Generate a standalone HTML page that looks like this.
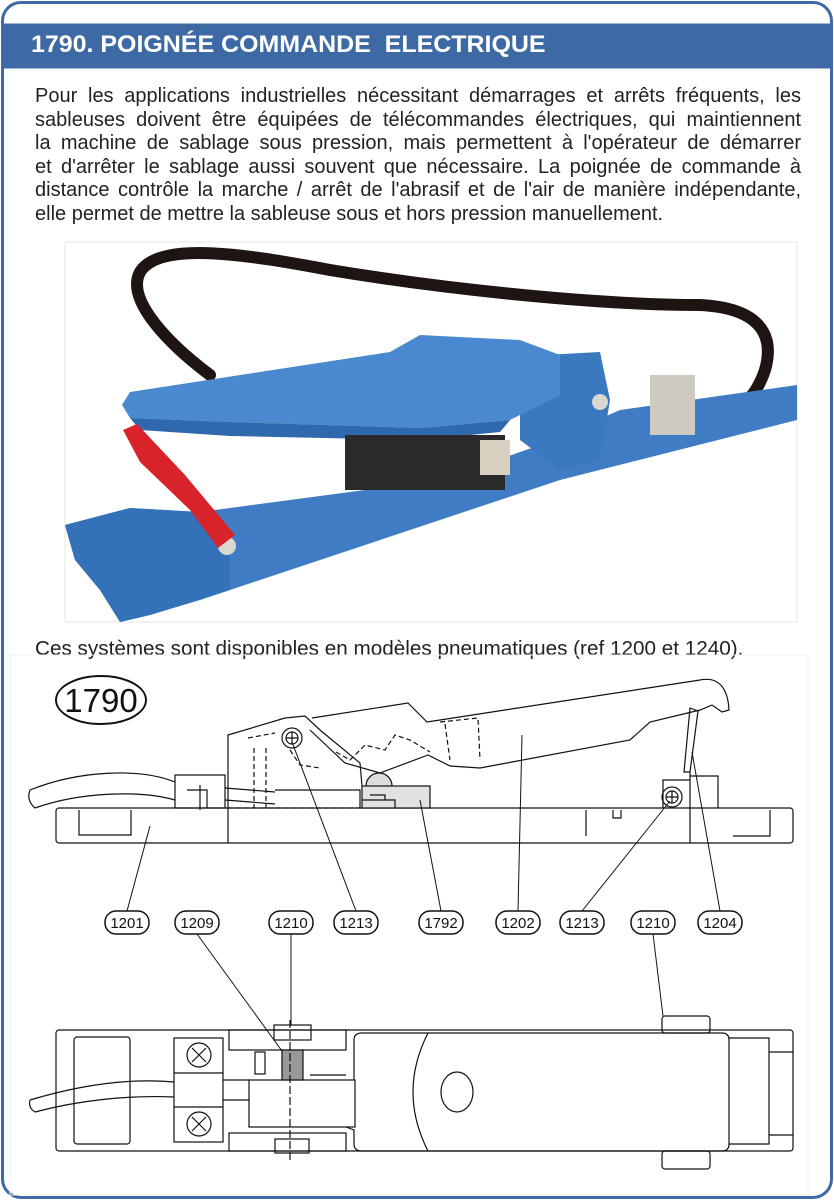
<!DOCTYPE html>
<html><head><meta charset="utf-8"><style>
html,body{margin:0;padding:0;background:#fff}
body{width:834px;height:1200px;position:relative;overflow:hidden;font-family:"Liberation Sans",Arial,sans-serif}
.frame{position:absolute;left:1px;top:1px;width:826px;height:1192px;border:3px solid #3d6aa5;border-radius:20px}
.hdr{position:absolute;left:4px;top:23px;width:826px;height:44px;background:#3d6aa5;border-top:1px solid #9fb6d6;border-bottom:1px solid #9fb6d6}
.hdr span{position:absolute;left:27px;top:7px;color:#fff;font-weight:bold;font-size:24px;white-space:pre;transform:scaleX(1.04);transform-origin:left}
.txt{position:absolute;left:35px;top:85px;width:766px;font-size:20px;line-height:23.5px;color:#222}
.l{text-align:justify;text-align-last:justify;white-space:nowrap}
.l.last{text-align-last:left}
.cap{position:absolute;left:35px;top:637px;font-size:20.7px;color:#222;white-space:nowrap}
svg{position:absolute;left:0;top:0}
</style></head><body>
<div class="frame"></div>
<div class="hdr"><span>1790. POIGNÉE COMMANDE  ELECTRIQUE</span></div>
<div class="txt">
<div class="l">Pour les applications industrielles nécessitant démarrages et arrêts fréquents, les</div>
<div class="l">sableuses doivent être équipées de télécommandes électriques, qui maintiennent</div>
<div class="l">la machine de sablage sous pression, mais permettent à l'opérateur de démarrer</div>
<div class="l">et d'arrêter le sablage aussi souvent que nécessaire. La poignée de commande à</div>
<div class="l">distance contrôle la marche / arrêt de l'abrasif et de l'air de manière indépendante,</div>
<div class="l last">elle permet de mettre la sableuse sous et hors pression manuellement.</div>
</div>
<div class="cap">Ces systèmes sont disponibles en modèles pneumatiques (ref 1200 et 1240).</div>

<svg width="834" height="1200" viewBox="0 0 834 1200">
<rect x="65" y="242" width="732" height="380" fill="#fff" stroke="#e4e4e4"/>
<path d="M210,375 C170,345 125,300 140,272 C160,240 250,255 330,270 C450,290 600,305 700,305 C760,308 775,335 765,370 C755,400 740,410 710,420" fill="none" stroke="#1e1412" stroke-width="12" stroke-linecap="round"/>
<path d="M65,525 L130,508 L200,512 L440,480 L540,445 L620,410 L797,385 L797,420 L560,480 L230,590 L200,600 L150,615 L120,622 L100,590 L75,560 Z" fill="#3f7cc4"/>
<path d="M65,525 L130,508 L200,512 L230,540 L230,590 L150,615 L120,622 L100,590 L75,560 Z" fill="#3372b8"/>
<path d="M520,395 L545,355 L600,352 L610,400 L600,460 L560,470 L520,440 Z" fill="#3a78c0"/>
<path d="M122,405 L130,392 L390,352 L420,335 L520,340 L560,355 L560,395 L510,420 L420,428 L230,422 L130,418 Z" fill="#4a88cf"/>
<path d="M130,418 L230,422 L420,428 L510,420 L500,432 L420,440 L230,436 L140,430 Z" fill="#2f68ad"/>
<rect x="345" y="435" width="160" height="55" fill="#2a2a2a"/>
<rect x="480" y="440" width="30" height="35" fill="#d8d0c0"/>
<rect x="650" y="375" width="45" height="60" fill="#cfcac0"/>
<circle cx="600" cy="402" r="8" fill="#d8d8d0"/>
<circle cx="227" cy="546" r="9" fill="#d8d8d0"/>
<path d="M123,430 L137,424 L185,475 L235,535 L218,548 L190,510 L140,462 Z" fill="#d8232a"/>
<rect x="10" y="655" width="798" height="540" fill="none" stroke="#f0f0f0"/>
<g fill="none" stroke="#111" stroke-width="1.2">
<ellipse cx="101" cy="700" rx="45" ry="24" stroke-width="2"/>
<rect x="56" y="808" width="737" height="35" rx="3"/>
<path d="M79,810 V835 H131 V810 M586,810 V836 M770,810 V836 H733 M613,810 V818 H621 V810"/>
<path d="M30,790 C80,770 140,768 175,782 M35,808 C80,792 140,790 175,800 M30,790 Q26,800 35,808"/>
<rect x="175" y="775" width="50" height="33"/>
<path d="M187,790 H207 V808 M200,785 V810"/>
<path d="M225,788 L275,792 M225,800 L275,804"/>
<path d="M228,843 V735 L285,718 L305,716 L320,730 L360,763 L362,786"/>
<path d="M275,790 H360 V808"/>
<path d="M312,718 L408,703 L427,722 L440,720 L700,680 C720,676 728,690 729,710 L722,712 L712,705 L700,710 L650,722 L630,740 L480,768 L450,766 L428,755 L380,773 L345,763 L310,730"/>
<path d="M248,738 L275,733 M290,750 L300,765 L320,768 M336,752 L350,760 L365,745 L385,750 L395,735 L410,740 L430,752 M440,722 L478,718 L480,760 M445,724 L450,760" stroke-dasharray="5,3"/>
<path d="M254,748 V808 M266,748 V808 M228,808 H362" stroke-dasharray="5,3"/>
<circle cx="292" cy="738" r="10"/><circle cx="292" cy="738" r="6"/><path d="M286,738 H298 M292,732 V744"/>
<path d="M366,786 A12,12 0 0 1 392,786" fill="#ddd"/>
<rect x="362" y="786" width="68" height="22" fill="#e2e2e2"/>
<path d="M362,800 H395 V808 M370,795 H385 V800"/>
<path d="M663,808 V780 H690 M690,776 H718 V808"/>
<circle cx="672" cy="797" r="10"/><circle cx="672" cy="797" r="6"/><path d="M666,797 H678 M672,791 V803"/>
<path d="M690,708 L698,711 L690,772 L684,772 Z"/>
<path d="M690,772 V843"/>
<g stroke-width="1.5">
<rect x="105" y="911" width="44" height="23" rx="11"/>
<rect x="175" y="911" width="44" height="23" rx="11"/>
<rect x="269" y="911" width="44" height="23" rx="11"/>
<rect x="334" y="911" width="44" height="23" rx="11"/>
<rect x="419" y="911" width="44" height="23" rx="11"/>
<rect x="496" y="911" width="44" height="23" rx="11"/>
<rect x="560" y="911" width="44" height="23" rx="11"/>
<rect x="631" y="911" width="44" height="23" rx="11"/>
<rect x="698" y="911" width="44" height="23" rx="11"/>
</g>
<path d="M127,911 L150,826 M356,911 L292,742 M441,911 L420,800 M518,911 L522,735 M582,911 L670,801 M720,911 L692,752 M197,934 L290,1062 M291,934 L291,1025 M653,934 L663,1016" stroke-width="1"/>
<rect x="56" y="1030" width="737" height="121" rx="3"/>
<rect x="74" y="1037" width="56" height="107" rx="3"/>
<rect x="174" y="1038" width="49" height="104"/>
<path d="M174,1073 H223 M174,1107 H223"/>
<circle cx="199" cy="1055" r="12"/><path d="M192,1048 L206,1062 M206,1048 L192,1062"/>
<circle cx="199" cy="1124" r="12"/><path d="M192,1117 L206,1131 M206,1117 L192,1131"/>
<path d="M30,1100 C80,1085 130,1078 174,1082 M35,1112 C80,1100 130,1095 174,1097 M30,1100 Q28,1108 35,1112"/>
<path d="M223,1080 H249 M223,1100 H249"/>
<rect x="229" y="1030" width="117" height="20"/>
<rect x="229" y="1133" width="117" height="18"/>
<rect x="249" y="1080" width="106" height="47"/>
<rect x="255" y="1052" width="10" height="22"/>
<rect x="282" y="1050" width="21" height="30" fill="#999"/>
<path d="M310,1075 H346"/>
<rect x="274" y="1025" width="37" height="15"/>
<rect x="275" y="1139" width="34" height="14"/>
<path d="M290,1020 V1160" stroke-dasharray="8,3"/>
<path d="M362,1033 H722 Q729,1033 729,1040 V1144 Q729,1151 722,1151 H362 Q354,1151 354,1144 V1130 L346,1127 M354,1040 Q354,1033 362,1033 M354,1040 V1080"/>
<path d="M428,1033 Q398,1092 428,1151"/>
<ellipse cx="457" cy="1092" rx="16" ry="20"/>
<path d="M729,1038 H769 V1144 H729 M769,1052 H793 M769,1135 H793"/>
<rect x="662" y="1016" width="48" height="17" rx="3"/>
<rect x="662" y="1151" width="48" height="18" rx="3"/>
</g>
<g font-family="Liberation Sans, Arial, sans-serif" fill="#111" text-anchor="middle">
<text x="101" y="712" font-size="33">1790</text>
<g font-size="15">
<text x="127" y="928">1201</text><text x="197" y="928">1209</text><text x="291" y="928">1210</text>
<text x="356" y="928">1213</text><text x="441" y="928">1792</text><text x="518" y="928">1202</text>
<text x="582" y="928">1213</text><text x="653" y="928">1210</text><text x="720" y="928">1204</text>
</g>
</g>
</svg>
</body></html>
